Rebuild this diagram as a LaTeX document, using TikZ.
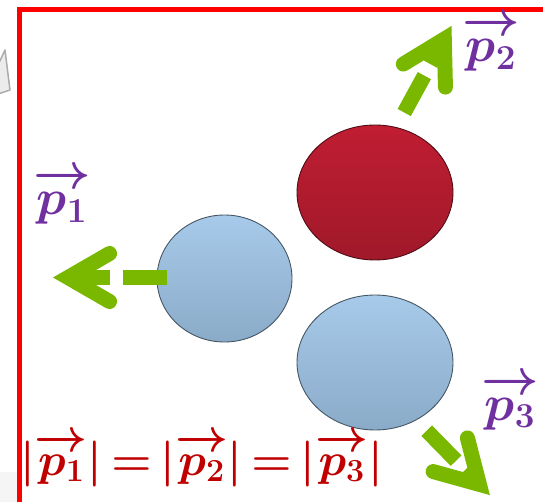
\documentclass[tikz,border=0pt]{standalone}
\usepackage{fix-cm}
\usepackage{amsmath}
\usepackage{amssymb}
\usepackage{tikz}
\usetikzlibrary{shapes.geometric, calc}
\definecolor{framered}{HTML}{FF0000}
\definecolor{momgreen}{HTML}{7AB800}
\definecolor{labelpurple}{HTML}{7030A0}
\definecolor{eqred}{HTML}{C00000}
\definecolor{bluetop}{HTML}{A8CAEA}
\definecolor{bluebot}{HTML}{8AABC8}
\definecolor{redtop}{HTML}{C01D32}
\definecolor{redbot}{HTML}{A0192A}
\newcommand{\mom}[1]{\overrightarrow{\rule{0pt}{0.52em}p_{#1}}}

\begin{document}
\begin{tikzpicture}[
    x=1pt, y=-1pt,
    frame/.style={draw=framered, line width=5pt},
    blueball/.style={ellipse, inner sep=0pt, top color=bluetop, bottom color=bluebot, draw=bluebot!50!black, line width=0.9pt},
    redball/.style={ellipse, inner sep=0pt, top color=redtop, bottom color=redbot, draw=redbot!50!black, line width=0.9pt},
    momshaft/.style={draw=momgreen, line width=15pt},
    momhead/.style={draw=momgreen, line width=15pt, line cap=round, line join=miter},
    momlabel/.style={text=labelpurple, font={\fontsize{50}{56}\selectfont\boldmath}, inner sep=0pt, anchor=base west},
    eqlabel/.style={text=eqred, font={\fontsize{46}{52}\selectfont\boldmath\thickmuskip=3mu}, inner sep=0pt, anchor=base west}
]
\useasboundingbox (0,0) rectangle (543,502);

% leftover bits of the slide
\fill[gray!8] (0,472) rectangle (17,502);
\draw[gray!65, fill=gray!15, line width=1.5pt, line join=round] (-2,65) -- (5,50) -- (10,90) -- (-2,94);
\draw[frame] (19.5,505) -- (19.5,10) -- (548,10);

% particles
\node[redball, minimum width=156pt, minimum height=135pt] (b2) at (375,192.5) {};
\node[blueball, minimum width=135pt, minimum height=127pt] (b1) at (224.5,278.5) {};
\node[blueball, minimum width=156pt, minimum height=135pt] (b3) at (375,362.5) {};

% momenta
\coordinate (s1) at (167,277.5);
\coordinate (t1) at (68,277.5);
\coordinate (s2) at (404.2,112.5);
\coordinate (t2) at (444.3,39.1);
\coordinate (s3) at (426.7,430.7);
\coordinate (t3) at (479.4,484.4);

\draw[momshaft, dash pattern=on 44pt off 13pt on 200pt] (s1) -- (t1);
\draw[momhead] ($(t1)!48pt!30:(s1)$) -- (t1) -- ($(t1)!48pt!-30:(s1)$);
\draw[momshaft, dash pattern=on 42pt off 13pt on 200pt] (s2) -- (t2);
\draw[momhead] ($(t2)!48pt!30:(s2)$) -- (t2) -- ($(t2)!48pt!-30:(s2)$);
\draw[momshaft, dash pattern=on 42pt off 13pt on 200pt] (s3) -- (t3);
\draw[momhead] ($(t3)!48pt!30:(s3)$) -- (t3) -- ($(t3)!48pt!-30:(s3)$);

% labels
\node[momlabel] (l1) at (33,215) {$\mom{1}$};
\node[momlabel] (l2) at (462,62) {$\mom{2}$};
\node[momlabel] (l3) at (481,420) {$\mom{3}$};
\node[eqlabel] (eq) at (20,475) {$|\mom{1}| = |\mom{2}| = |\mom{3}|$};
\end{tikzpicture}
\end{document}
